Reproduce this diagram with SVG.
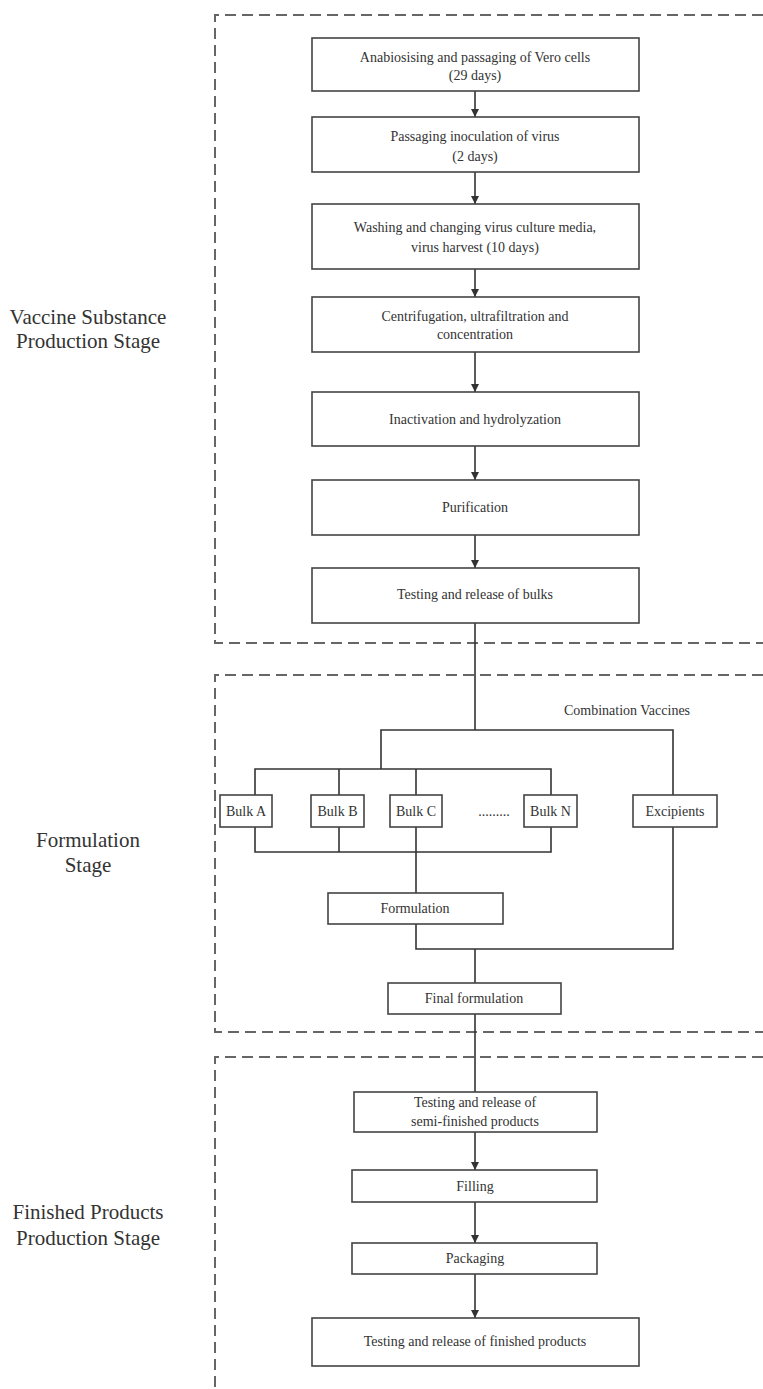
<svg xmlns="http://www.w3.org/2000/svg" width="763" height="1389" viewBox="0 0 763 1389">
<defs>
<marker id="ah" viewBox="0 0 10 10" refX="10" refY="5" markerWidth="8" markerHeight="8" markerUnits="userSpaceOnUse" orient="auto">
<path d="M0,0 L10,5 L0,10 z" fill="#333"/>
</marker>
<style>
.box{fill:#fff;stroke:#444;stroke-width:1.6}
.stage{fill:none;stroke:#666;stroke-width:2;stroke-dasharray:11 6}
.t{font-family:"Liberation Serif","Times New Roman",serif;font-size:14px;fill:#333;text-anchor:middle}
.lbl{font-family:"Liberation Serif","Times New Roman",serif;font-size:21px;fill:#333;text-anchor:middle}
.c{fill:none;stroke:#333;stroke-width:1.6}
</style>
</defs>
<rect width="763" height="1389" fill="#fff"/>
<g id="stages">
<path class="stage" d="M763 15 H215 V643 H763"/>
<path class="stage" d="M763 675 H215 V1032 H763"/>
<path class="stage" d="M763 1057 H215 V1389"/>
</g>
<g id="stage-labels">
<text class="lbl" x="88" y="324">Vaccine Substance</text>
<text class="lbl" x="88" y="348">Production Stage</text>
<text class="lbl" x="88" y="847">Formulation</text>
<text class="lbl" x="88" y="872">Stage</text>
<text class="lbl" x="88" y="1219">Finished Products</text>
<text class="lbl" x="88" y="1245">Production Stage</text>
</g>
<g id="connectors">
<path class="c" d="M475 91 V117" marker-end="url(#ah)"/>
<path class="c" d="M475 172 V204" marker-end="url(#ah)"/>
<path class="c" d="M475 269 V297" marker-end="url(#ah)"/>
<path class="c" d="M475 352 V392" marker-end="url(#ah)"/>
<path class="c" d="M475 446 V480" marker-end="url(#ah)"/>
<path class="c" d="M475 535 V568" marker-end="url(#ah)"/>
<path class="c" d="M475 623 V730"/>
<path class="c" d="M381 769 V730 H673 V795"/>
<path class="c" d="M255 795 V769 H551 V795"/>
<path class="c" d="M339 769 V795"/>
<path class="c" d="M416 769 V795"/>
<path class="c" d="M255 827 V852 H551 V827"/>
<path class="c" d="M339 827 V852"/>
<path class="c" d="M416 827 V893"/>
<path class="c" d="M416 924 V949 H673 V827"/>
<path class="c" d="M475 949 V983"/>
<path class="c" d="M475 1014 V1092"/>
<path class="c" d="M475 1132 V1170" marker-end="url(#ah)"/>
<path class="c" d="M475 1202 V1243" marker-end="url(#ah)"/>
<path class="c" d="M475 1274 V1318" marker-end="url(#ah)"/>
</g>
<g id="n1"><rect class="box" x="312" y="38" width="327" height="53"/><text class="t" x="475" y="62">Anabiosising and passaging of Vero cells</text><text class="t" x="475" y="80">(29 days)</text></g>
<g id="n2"><rect class="box" x="312" y="117" width="327" height="55"/><text class="t" x="475" y="141">Passaging inoculation of virus</text><text class="t" x="475" y="161">(2 days)</text></g>
<g id="n3"><rect class="box" x="312" y="204" width="327" height="65"/><text class="t" x="475" y="232">Washing and changing virus culture media,</text><text class="t" x="475" y="252">virus harvest (10 days)</text></g>
<g id="n4"><rect class="box" x="312" y="297" width="327" height="55"/><text class="t" x="475" y="321">Centrifugation, ultrafiltration and</text><text class="t" x="475" y="339">concentration</text></g>
<g id="n5"><rect class="box" x="312" y="392" width="327" height="54"/><text class="t" x="475" y="424">Inactivation and hydrolyzation</text></g>
<g id="n6"><rect class="box" x="312" y="480" width="327" height="55"/><text class="t" x="475" y="512">Purification</text></g>
<g id="n7"><rect class="box" x="312" y="568" width="327" height="55"/><text class="t" x="475" y="599">Testing and release of bulks</text></g>
<g id="combination-label"><text class="t" x="627" y="715">Combination Vaccines</text></g>
<g id="bulkA"><rect class="box" x="220" y="795" width="52" height="32"/><text class="t" x="246" y="816">Bulk A</text></g>
<g id="bulkB"><rect class="box" x="311" y="795" width="53" height="32"/><text class="t" x="337.5" y="816">Bulk B</text></g>
<g id="bulkC"><rect class="box" x="390" y="795" width="52" height="32"/><text class="t" x="416" y="816">Bulk C</text></g>
<g id="dots"><text class="t" x="494" y="816">.........</text></g>
<g id="bulkN"><rect class="box" x="524" y="795" width="53" height="32"/><text class="t" x="550.5" y="816">Bulk N</text></g>
<g id="excipients"><rect class="box" x="633" y="795" width="84" height="32"/><text class="t" x="675" y="816">Excipients</text></g>
<g id="formulation"><rect class="box" x="328" y="893" width="175" height="31"/><text class="t" x="415" y="913">Formulation</text></g>
<g id="final-formulation"><rect class="box" x="388" y="983" width="173" height="31"/><text class="t" x="474" y="1003">Final formulation</text></g>
<g id="semi"><rect class="box" x="354" y="1092" width="243" height="40"/><text class="t" x="475" y="1107">Testing and release of</text><text class="t" x="475" y="1126">semi-finished products</text></g>
<g id="filling"><rect class="box" x="352" y="1170" width="245" height="32"/><text class="t" x="475" y="1191">Filling</text></g>
<g id="packaging"><rect class="box" x="352" y="1243" width="245" height="31"/><text class="t" x="475" y="1263">Packaging</text></g>
<g id="final"><rect class="box" x="312" y="1318" width="327" height="48"/><text class="t" x="475" y="1346">Testing and release of finished products</text></g>
</svg>
